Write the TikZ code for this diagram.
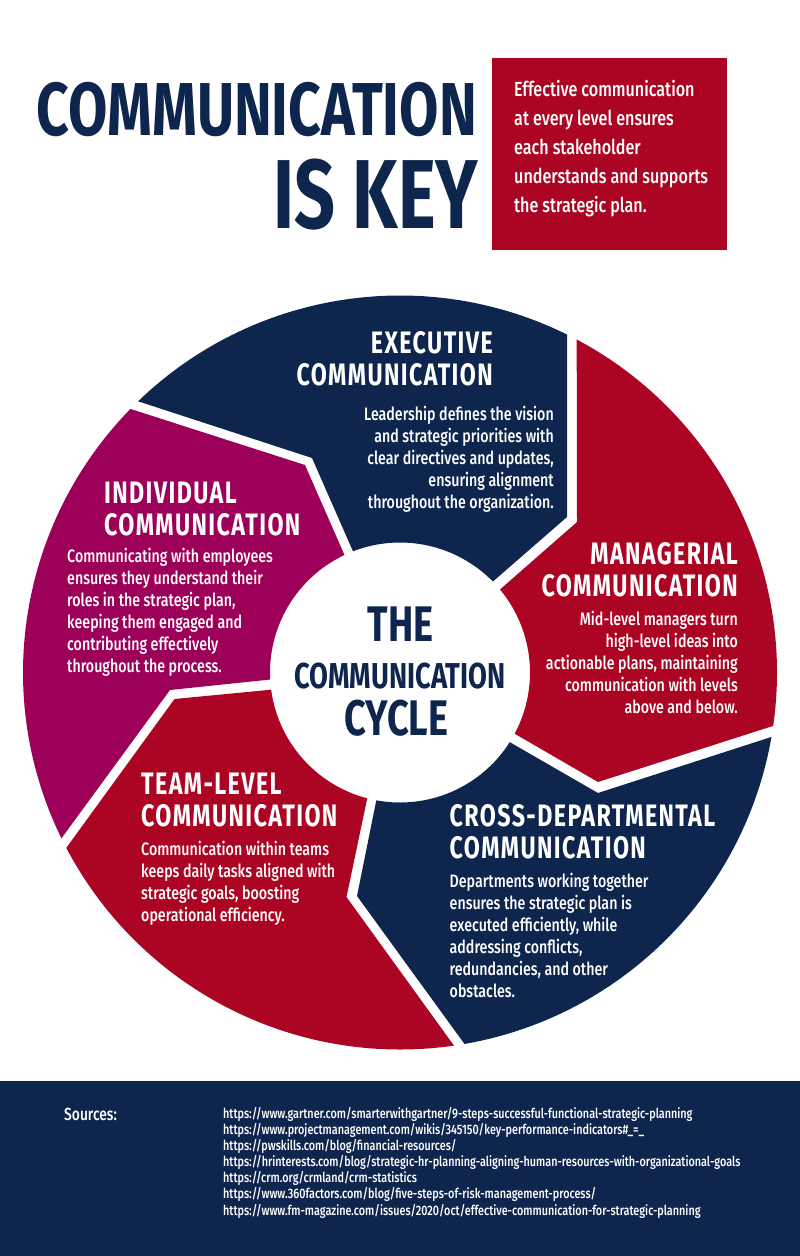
\documentclass[tikz,border=0pt]{standalone}
\usepackage{fontspec}
\setmainfont{Fira Sans Medium}[FakeStretch=0.79]
\newfontfamily\headfont{Fira Sans}[FakeStretch=0.75,LetterSpace=4.5,BoldFont={Fira Sans Bold}]
\newfontfamily\bigfont{Fira Sans}[FakeStretch=0.76,BoldFont={Fira Sans Bold}]
\newfontfamily\keyfont{Fira Sans}[FakeStretch=0.73,BoldFont={Fira Sans Bold}]
\usetikzlibrary{calc,positioning}
\definecolor{navyseg}{HTML}{0E264E}
\definecolor{redseg}{HTML}{AB0523}
\definecolor{plumseg}{HTML}{9D0059}
\tikzset{
  headtext/.style={text=white,inner sep=0pt,font=\headfont\bfseries\fontsize{31}{32}\selectfont},
  bodytext/.style={text=white,inner sep=0pt,font=\fontsize{18}{22}\selectfont},
  hubtext/.style={text=navyseg,inner sep=0pt,anchor=base},
  urltext/.style={text=white,inner sep=0pt,anchor=base west,font=\fontsize{13.7}{16.1}\selectfont}
}
\newcommand{\ROUT}{377}
\newcommand{\RIN}{130}
\begin{document}
\begin{tikzpicture}[x=1pt,y=-1pt]
    \useasboundingbox (0,0) rectangle (800,1256);
    \coordinate (O) at (400,672.5);
    % segments, outer arc first
    \fill[navyseg] ($(O)+(-134:\ROUT)$) arc[start angle=-134,end angle=-63.7,radius=\ROUT]
      -- (567,517) -- ($(O)+(-44.4:\RIN)$) arc[start angle=-44.4,end angle=-111.2,radius=\RIN]
      -- (312,458) -- cycle;
    \fill[redseg] ($(O)+(-62.05:\ROUT)$) arc[start angle=-62.05,end angle=8.14,radius=\ROUT]
      -- (598,782) -- ($(O)+(28.1:\RIN)$) arc[start angle=28.1,end angle=-39.7,radius=\RIN]
      -- (577,522) -- cycle;
    \fill[navyseg] ($(O)+(9.84:\ROUT)$) arc[start angle=9.84,end angle=80.15,radius=\ROUT]
      -- (357,896) -- ($(O)+(100.5:\RIN)$) arc[start angle=100.5,end angle=32.4,radius=\RIN]
      -- (598,793) -- cycle;
    \fill[redseg] ($(O)+(81.77:\ROUT)$) arc[start angle=81.77,end angle=152.28,radius=\ROUT]
      -- (174.5,699) -- ($(O)+(172.4:\RIN)$) arc[start angle=172.4,end angle=104.6,radius=\RIN]
      -- (346.5,897) -- cycle;
    \fill[plumseg] ($(O)+(153.9:\ROUT)$) arc[start angle=153.9,end angle=224.36,radius=\ROUT]
      -- (305,465) -- ($(O)+(244.7:\RIN)$) arc[start angle=244.7,end angle=176.9,radius=\RIN]
      -- (170,690) -- cycle;
    % title and box
    \node[text=navyseg,inner sep=0pt,anchor=base east,font=\bigfont\bfseries\fontsize{75}{75}\selectfont] (title1) at (477,135) {COMMUNICATION};
    \node[text=navyseg,inner sep=0pt,anchor=base east,font=\keyfont\bfseries\fontsize{98}{98}\selectfont] (title2) at (478,228) {IS KEY};
    \fill[redseg] (492,58) rectangle (727,250);
    \node[text=white,inner sep=0pt,anchor=base west,align=left,font=\fontsize{20.4}{29}\selectfont] (intro) at (514,212)
      {Effective communication\\at every level ensures\\each stakeholder\\understands and supports\\the strategic plan.};
    % executive
    \node[headtext,anchor=base east,align=right] (exechead) at (493,385.5) {EXECUTIVE\\COMMUNICATION};
    \node[bodytext,anchor=base east,align=right] (execbody) at (554,508.5)
      {Leadership defines the vision\\and strategic priorities with\\clear directives and updates,\\ensuring alignment\\throughout the organization.};
    % managerial
    \node[headtext,anchor=base east,align=right] (manhead) at (738,596) {MANAGERIAL\\COMMUNICATION};
    \node[bodytext,anchor=base east,align=right] (manbody) at (738,713.5)
      {Mid-level managers turn\\high-level ideas into\\actionable plans, maintaining\\communication with levels\\above and below.};
    % cross-departmental
    \node[headtext,anchor=base west,align=left] (crosshead) at (449.5,858) {CROSS-DEPARTMENTAL\\COMMUNICATION};
    \node[bodytext,anchor=base west,align=left] (crossbody) at (449.5,997.7)
      {Departments working together\\ensures the strategic plan is\\executed efficiently, while\\addressing conflicts,\\redundancies, and other\\obstacles.};
    % team-level
    \node[headtext,anchor=base west,align=left] (teamhead) at (141,826) {TEAM-LEVEL\\COMMUNICATION};
    \node[bodytext,anchor=base west,align=left] (teambody) at (141,921.7)
      {Communication within teams\\keeps daily tasks aligned with\\strategic goals, boosting\\operational efficiency.};
    % individual
    \node[headtext,anchor=base west,align=left] (indhead) at (104,535) {INDIVIDUAL\\COMMUNICATION};
    \node[bodytext,anchor=base west,align=left] (indbody) at (67,672)
      {Communicating with employees\\ensures they understand their\\roles in the strategic plan,\\keeping them engaged and\\contributing effectively\\throughout the process.};
    % hub
    \node[hubtext,font=\bigfont\bfseries\fontsize{50}{50}\selectfont] (hubthe) at (400.5,641.5) {THE};
    \node[hubtext,font=\bigfont\bfseries\fontsize{36}{36}\selectfont] (hubcomm) at (400,688) {COMMUNICATION};
    \node[hubtext,font=\bigfont\bfseries\fontsize{50}{50}\selectfont] (hubcycle) at (396.5,735) {CYCLE};
    % sources
    \fill[navyseg] (0,1081) rectangle (800,1256);
    \node[urltext,font=\fontsize{17.5}{18}\selectfont] (srclabel) at (64,1120) {Sources:};
    \node[urltext,align=left] (srclist) at (223,1215)
      {https://www.gartner.com/smarterwithgartner/9-steps-successful-functional-strategic-planning\\
       https://www.projectmanagement.com/wikis/345150/key-performance-indicators\#\_=\_\\
       https://pwskills.com/blog/financial-resources/\\
       https://hrinterests.com/blog/strategic-hr-planning-aligning-human-resources-with-organizational-goals\\
       https://crm.org/crmland/crm-statistics\\
       https://www.360factors.com/blog/five-steps-of-risk-management-process/\\
       https://www.fm-magazine.com/issues/2020/oct/effective-communication-for-strategic-planning};
  \end{tikzpicture}
\end{document}
